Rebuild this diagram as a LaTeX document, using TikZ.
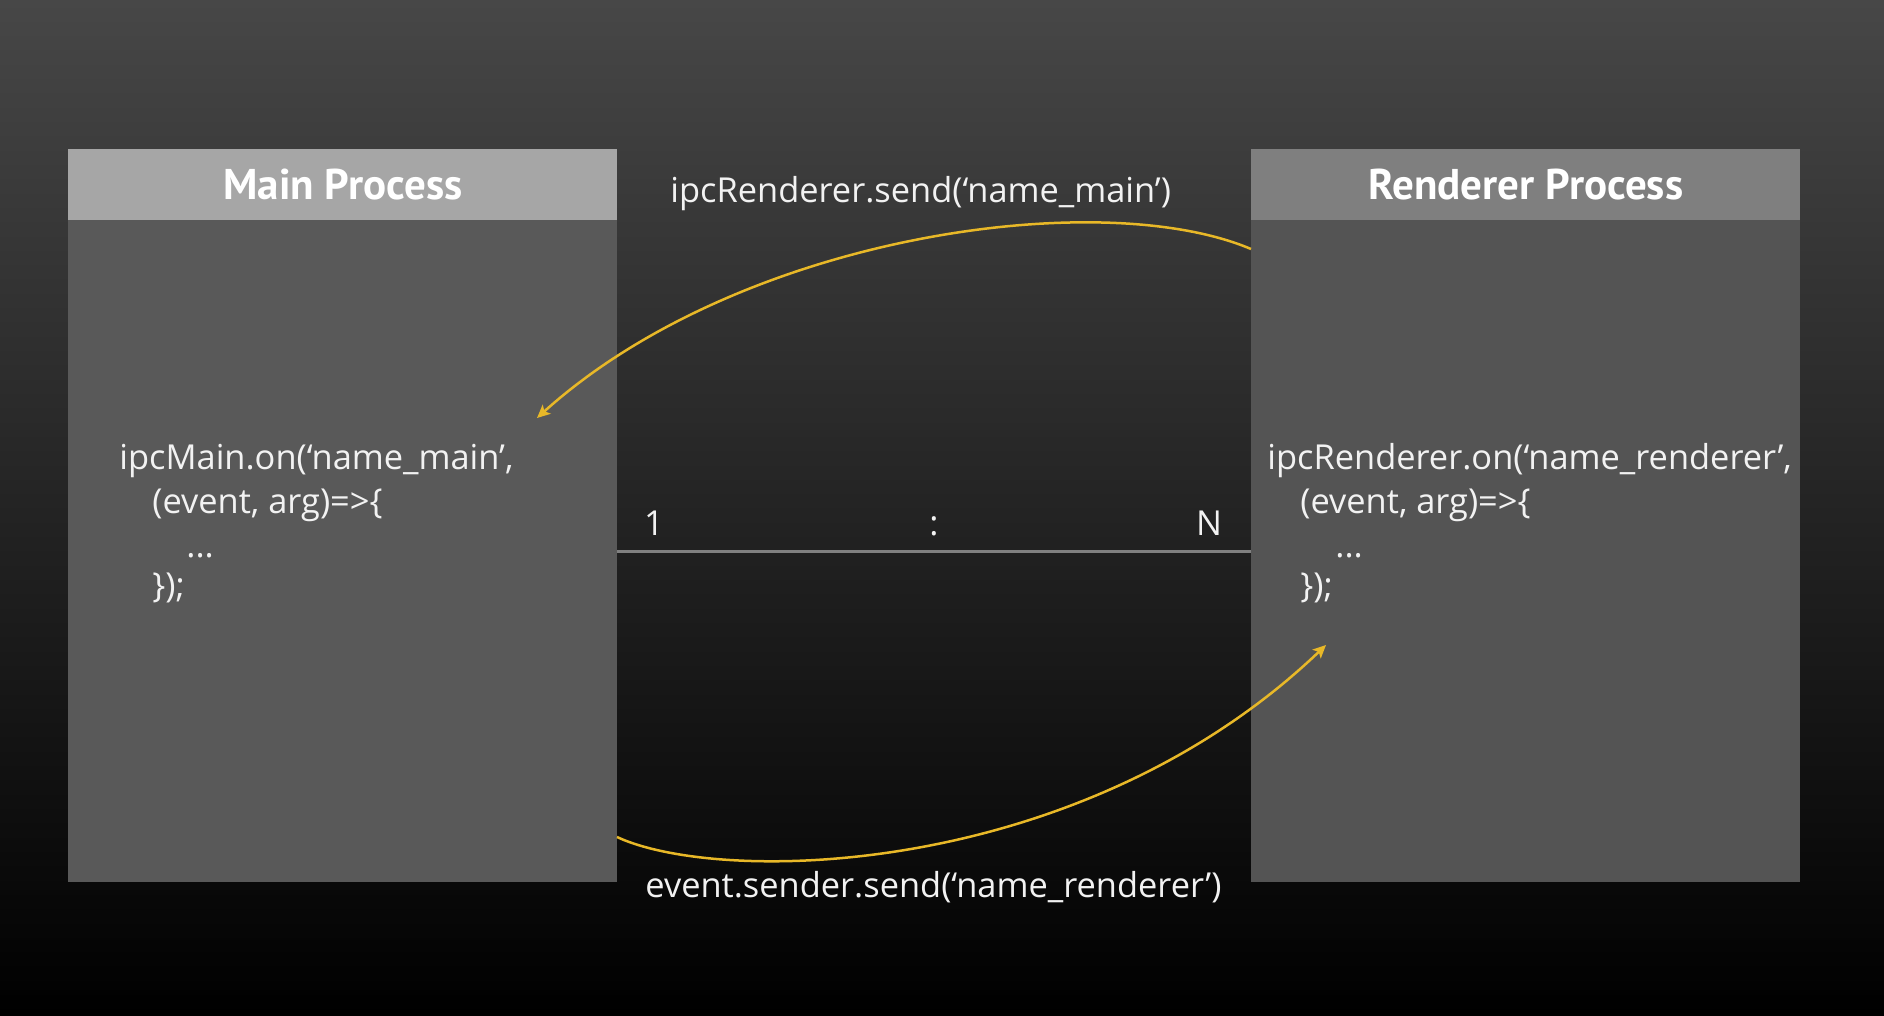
\documentclass[tikz,border=0pt]{standalone}
\usepackage{fontspec}
\setmainfont{Open Sans}
\newfontfamily\headfont{PT Sans}
\usetikzlibrary{arrows.meta}
\definecolor{bgtop}{HTML}{474747}
\definecolor{bgbot}{HTML}{000000}
\definecolor{mainhead}{HTML}{A6A6A6}
\definecolor{mainbody}{HTML}{595959}
\definecolor{renhead}{HTML}{7F7F7F}
\definecolor{renbody}{HTML}{545454}
\definecolor{sepline}{HTML}{808080}
\definecolor{gold}{HTML}{E8B828}
\definecolor{codetext}{HTML}{F2F2F2}
\tikzset{
  body/.style={anchor=north west, inner sep=0pt, minimum width=274.5pt, minimum height=366.5pt},
  head/.style={anchor=north west, inner sep=0pt, minimum width=274.5pt, minimum height=35.5pt,
    text=white, font=\headfont\bfseries\fontsize{21.5}{24}\selectfont},
  code/.style={anchor=base west, inner sep=0pt, text=codetext, font=\fontsize{17.2}{20}\selectfont},
  lbl/.style={anchor=base, inner sep=0pt, text=codetext, font=\fontsize{17.2}{20}\selectfont},
  flow/.style={draw=gold, line width=1.25pt, -{Stealth[length=6.5pt,width=6pt,inset=1.5pt]}},
}
\begin{document}
\begin{tikzpicture}[x=0.5pt,y=-0.5pt]
\useasboundingbox (0,0) rectangle (1884,1016);
\shade[top color=bgtop, bottom color=bgbot] (0,0) rectangle (1884,1016);
% boxes
\node[body, fill=mainbody] (mb) at (68,149) {};
\node[head, fill=mainhead] (mh) at (68,149) {Main Process};
\node[body, fill=renbody] (rb) at (1251,149) {};
\node[head, fill=renhead] (rh) at (1251,149) {Renderer Process};
% separator
\coordinate (sepL) at (617,551);
\coordinate (sepR) at (1251,551);
\draw[sepline, line width=1.5pt] (sepL) -- (sepR);
\node[lbl] (one) at (654,535) {1};
\node[lbl] (colon) at (934,535) {:};
\node[lbl] (enn) at (1209,535) {N};
% code main
\node[code] (m1) at (119,469) {ipcMain.on(‘name\_main’,};
\node[code] (m2) at (152,513) {(event, arg)=>\{};
\node[code] (m3) at (186,557) {...};
\node[code] (m4) at (152,597) {\});};
% code renderer
\node[code] (r1) at (1267,469) {ipcRenderer.on(‘name\_renderer’,};
\node[code] (r2) at (1300,513) {(event, arg)=>\{};
\node[code] (r3) at (1335,557) {...};
\node[code] (r4) at (1300,597) {\});};
% labels
\node[code] (toplbl) at (670,203) {ipcRenderer.send(‘name\_main’)};
\node[code] (botlbl) at (645,897) {event.sender.send(‘name\_renderer’)};
% arrows
\coordinate (a1s) at (1251,249);
\coordinate (a1e) at (537,418);
\coordinate (a2s) at (617,837);
\coordinate (a2e) at (1326,645);
\draw[flow] (a1s) .. controls (1100,185) and (740,235) .. (a1e);
\draw[flow] (a2s) .. controls (720,885) and (1080,880) .. (a2e);
\end{tikzpicture}
\end{document}
